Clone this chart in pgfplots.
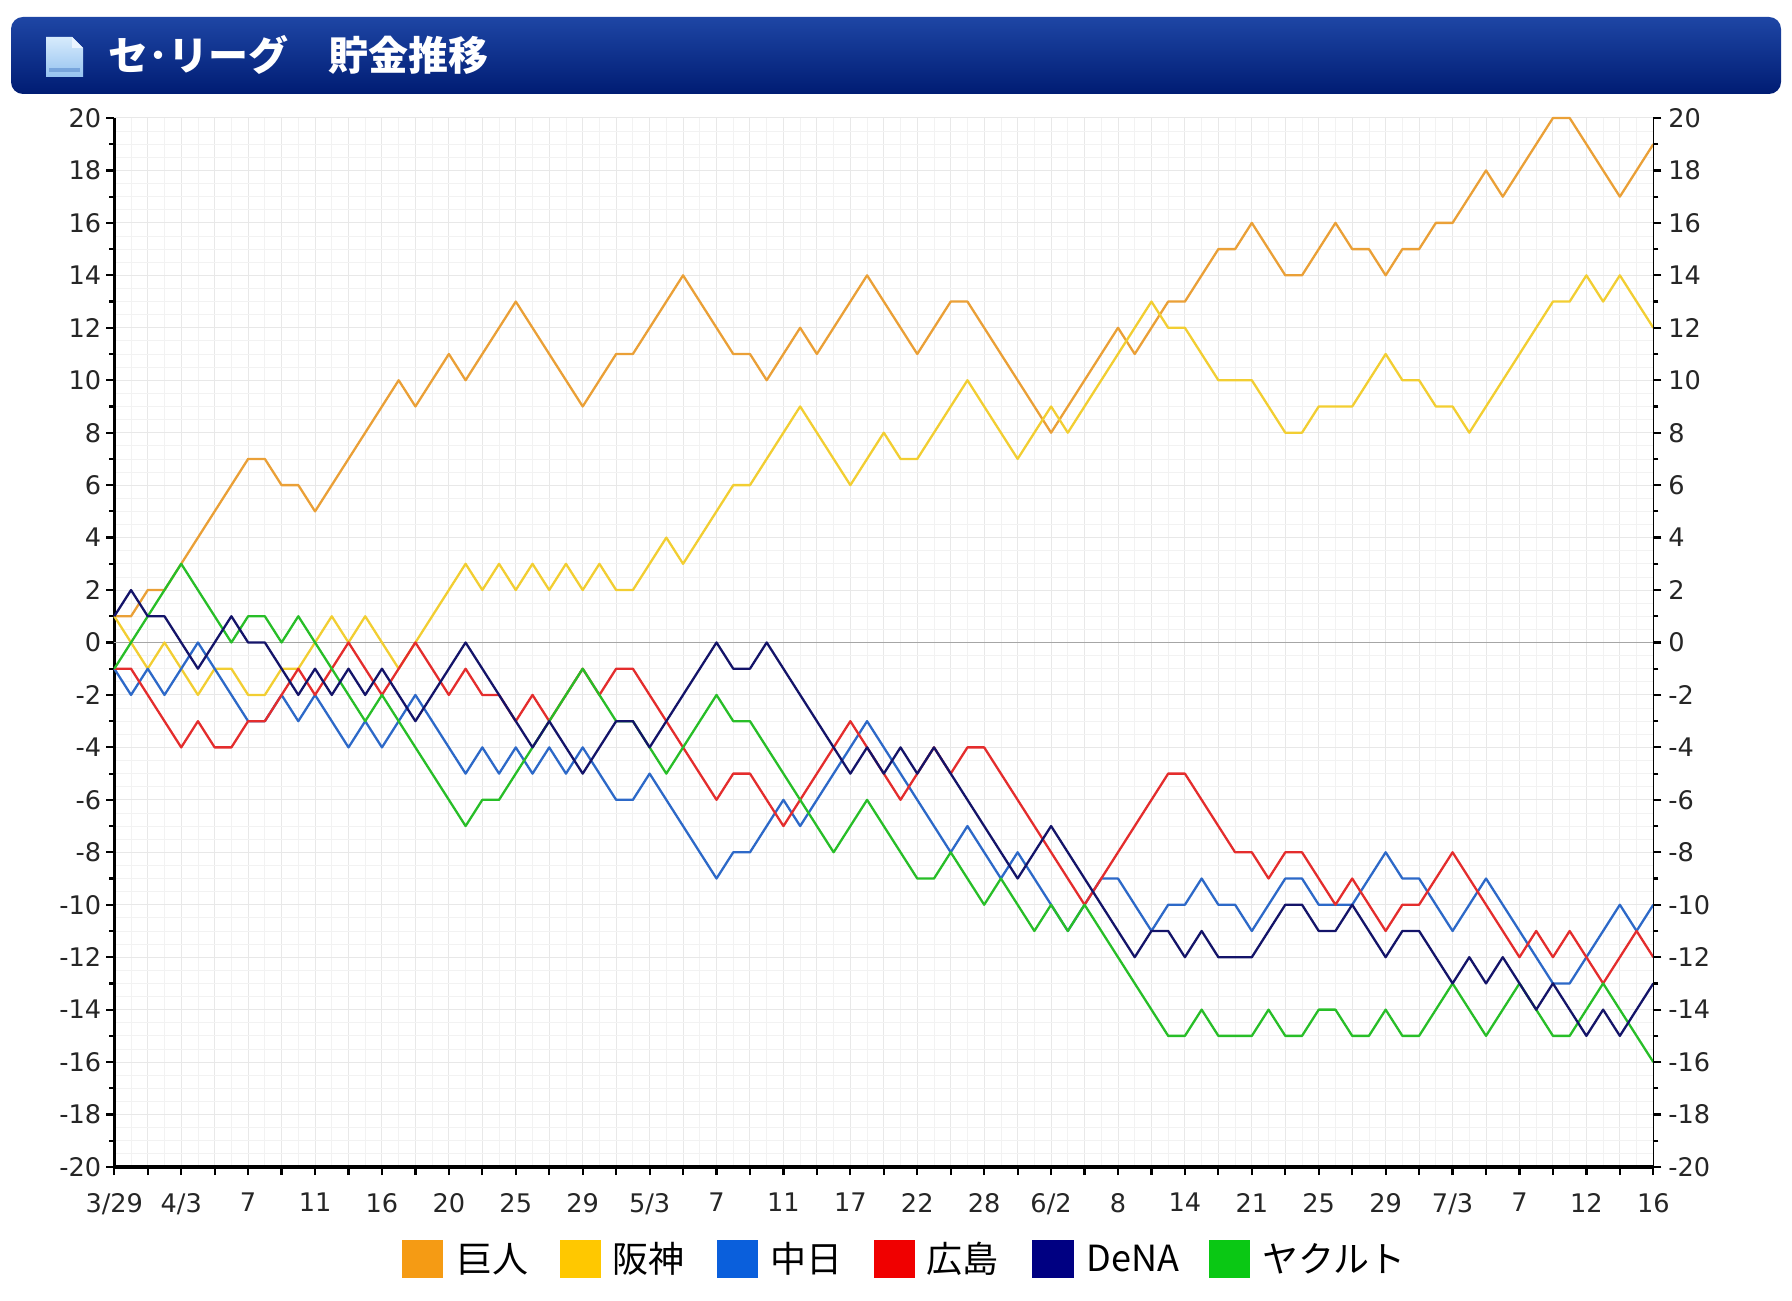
\documentclass[border=0pt]{standalone}
\usepackage{fontspec}
\setmainfont{DejaVu Sans}
\newfontfamily\jp{Noto Sans CJK JP}
\usepackage{pgfplots}
\usepackage{pgfplotstable}
\pgfplotsset{compat=1.18}

\definecolor{lG}{RGB}{234,160,55}
\definecolor{lT}{RGB}{242,206,50}
\definecolor{lD}{RGB}{45,105,200}
\definecolor{lC}{RGB}{228,45,45}
\definecolor{lB}{RGB}{20,20,105}
\definecolor{lS}{RGB}{40,190,40}
\definecolor{sG}{RGB}{245,155,20}
\definecolor{sT}{RGB}{255,200,0}
\definecolor{sD}{RGB}{10,95,220}
\definecolor{sC}{RGB}{240,0,0}
\definecolor{sB}{RGB}{0,0,130}
\definecolor{sS}{RGB}{10,200,20}
\definecolor{barTop}{RGB}{30,70,165}
\definecolor{barMid}{RGB}{6,42,140}
\definecolor{barBot}{RGB}{0,28,115}
\definecolor{icTop}{RGB}{215,235,252}
\definecolor{icBot}{RGB}{150,195,240}
\definecolor{icLine}{RGB}{120,165,220}
\definecolor{icFold}{RGB}{235,245,255}

\pgfplotstableread{
i G T D C B S
0 1 1 -1 -1 1 -1
1 1 0 -2 -1 2 0
2 2 -1 -1 -2 1 1
3 2 0 -2 -3 1 2
4 3 -1 -1 -4 0 3
5 4 -2 0 -3 -1 2
6 5 -1 -1 -4 0 1
7 6 -1 -2 -4 1 0
8 7 -2 -3 -3 0 1
9 7 -2 -3 -3 0 1
10 6 -1 -2 -2 -1 0
11 6 -1 -3 -1 -2 1
12 5 0 -2 -2 -1 0
13 6 1 -3 -1 -2 -1
14 7 0 -4 0 -1 -2
15 8 1 -3 -1 -2 -3
16 9 0 -4 -2 -1 -2
17 10 -1 -3 -1 -2 -3
18 9 0 -2 0 -3 -4
19 10 1 -3 -1 -2 -5
20 11 2 -4 -2 -1 -6
21 10 3 -5 -1 0 -7
22 11 2 -4 -2 -1 -6
23 12 3 -5 -2 -2 -6
24 13 2 -4 -3 -3 -5
25 12 3 -5 -2 -4 -4
26 11 2 -4 -3 -3 -3
27 10 3 -5 -2 -4 -2
28 9 2 -4 -1 -5 -1
29 10 3 -5 -2 -4 -2
30 11 2 -6 -1 -3 -3
31 11 2 -6 -1 -3 -3
32 12 3 -5 -2 -4 -4
33 13 4 -6 -3 -3 -5
34 14 3 -7 -4 -2 -4
35 13 4 -8 -5 -1 -3
36 12 5 -9 -6 0 -2
37 11 6 -8 -5 -1 -3
38 11 6 -8 -5 -1 -3
39 10 7 -7 -6 0 -4
40 11 8 -6 -7 -1 -5
41 12 9 -7 -6 -2 -6
42 11 8 -6 -5 -3 -7
43 12 7 -5 -4 -4 -8
44 13 6 -4 -3 -5 -7
45 14 7 -3 -4 -4 -6
46 13 8 -4 -5 -5 -7
47 12 7 -5 -6 -4 -8
48 11 7 -6 -5 -5 -9
49 12 8 -7 -4 -4 -9
50 13 9 -8 -5 -5 -8
51 13 10 -7 -4 -6 -9
52 12 9 -8 -4 -7 -10
53 11 8 -9 -5 -8 -9
54 10 7 -8 -6 -9 -10
55 9 8 -9 -7 -8 -11
56 8 9 -10 -8 -7 -10
57 9 8 -11 -9 -8 -11
58 10 9 -10 -10 -9 -10
59 11 10 -9 -9 -10 -11
60 12 11 -9 -8 -11 -12
61 11 12 -10 -7 -12 -13
62 12 13 -11 -6 -11 -14
63 13 12 -10 -5 -11 -15
64 13 12 -10 -5 -12 -15
65 14 11 -9 -6 -11 -14
66 15 10 -10 -7 -12 -15
67 15 10 -10 -8 -12 -15
68 16 10 -11 -8 -12 -15
69 15 9 -10 -9 -11 -14
70 14 8 -9 -8 -10 -15
71 14 8 -9 -8 -10 -15
72 15 9 -10 -9 -11 -14
73 16 9 -10 -10 -11 -14
74 15 9 -10 -9 -10 -15
75 15 10 -9 -10 -11 -15
76 14 11 -8 -11 -12 -14
77 15 10 -9 -10 -11 -15
78 15 10 -9 -10 -11 -15
79 16 9 -10 -9 -12 -14
80 16 9 -11 -8 -13 -13
81 17 8 -10 -9 -12 -14
82 18 9 -9 -10 -13 -15
83 17 10 -10 -11 -12 -14
84 18 11 -11 -12 -13 -13
85 19 12 -12 -11 -14 -14
86 20 13 -13 -12 -13 -15
87 20 13 -13 -11 -14 -15
88 19 14 -12 -12 -15 -14
89 18 13 -11 -13 -14 -13
90 17 14 -10 -12 -15 -14
91 18 13 -11 -11 -14 -15
92 19 12 -10 -12 -13 -16
}\datatable

\pgfplotsset{
  base/.style={
    at={(57.15pt,66.5pt)}, anchor=south west,
    width=769.5pt, height=524.5pt, scale only axis,
    xmin=0, xmax=92, ymin=-20, ymax=20,
  }
}

\begin{document}
\begin{tikzpicture}[x=1pt,y=1pt]
\path[use as bounding box] (0,0) rectangle (896,650);

% title bar
\shade[top color=barTop, middle color=barMid, bottom color=barBot, rounded corners=6pt] (5.5,603) rectangle (890.5,641.5);
% icon
\shade[top color=icTop, bottom color=icBot] (23,611.5) -- (23,631.5) -- (36,631.5) -- (41.5,626) -- (41.5,611.5) -- cycle;
\fill[icFold] (36,631.5) -- (36,626) -- (41.5,626) -- cycle;
\fill[icLine] (24.5,614) rectangle (40,616);
\node[anchor=west, text=white, inner sep=0pt, font=\jp\bfseries\fontsize{20}{20}\selectfont] at (54,622.5) {セ･リーグ　貯金推移};

% grid
\begin{axis}[base,
  xtick={0,2,...,92}, minor x tick num=1,
  ytick={-20,-18,...,20}, minor y tick num=3,
  grid=both,
  major grid style={draw=black!9, line width=0.5pt},
  minor grid style={draw=black!5, line width=0.4pt},
  axis line style={draw=none}, tick style={draw=none},
  xticklabels={}, yticklabels={}]
\end{axis}

% main
\begin{axis}[base,
  axis x line*=bottom, axis y line*=left,
  axis line style={line width=1.6pt, black},
  tick align=outside,
  major tick length=4pt, minor tick length=2.5pt,
  tick style={line width=1.1pt, black},
  xtick={0,2,...,92},
  xticklabels={3/29,,4/3,,7,,11,,16,,20,,25,,29,,5/3,,7,,11,,17,,22,,28,,6/2,,8,,14,,21,,25,,29,,7/3,,7,,12,,16},
  ytick={-20,-18,...,20}, minor ytick={-19,-17,...,19},
  /pgf/number format/assume math mode=true,
  tick label style={font=\fontsize{12.8}{12.8}\selectfont, text=black!85},
  xticklabel style={yshift=-5.5pt},
  yticklabel style={xshift=1pt},
  clip=false]
\addplot[black!35, line width=0.8pt] coordinates {(0,0) (92,0)};
\addplot[lG, line width=1.15pt, line join=round] table[x=i,y=G] {\datatable};
\addplot[lT, line width=1.15pt, line join=round] table[x=i,y=T] {\datatable};
\addplot[lD, line width=1.15pt, line join=round] table[x=i,y=D] {\datatable};
\addplot[lC, line width=1.15pt, line join=round] table[x=i,y=C] {\datatable};
\addplot[lS, line width=1.15pt, line join=round] table[x=i,y=S] {\datatable};
\addplot[lB, line width=1.15pt, line join=round] table[x=i,y=B] {\datatable};
\end{axis}

% right axis
\begin{axis}[base,
  axis x line=none, axis y line*=right,
  axis line style={line width=0.8pt, black},
  tick align=outside,
  major tick length=4pt, minor tick length=2.5pt,
  tick style={line width=1.1pt, black},
  ytick={-20,-18,...,20}, minor ytick={-19,-17,...,19},
  /pgf/number format/assume math mode=true,
  tick label style={font=\fontsize{12.8}{12.8}\selectfont, text=black!85},
  yticklabel style={xshift=0pt}]
\end{axis}

% legend
\begin{scope}[font=\jp\fontsize{18}{18}\selectfont]
\fill[sG] (201,11) rectangle (221.5,30);
\node[anchor=west, inner sep=0pt] at (228,20.5) {巨人};
\fill[sT] (280,11) rectangle (300.5,30);
\node[anchor=west, inner sep=0pt] at (306,20.5) {阪神};
\fill[sD] (358.5,11) rectangle (379,30);
\node[anchor=west, inner sep=0pt] at (385,20.5) {中日};
\fill[sC] (437,11) rectangle (457.5,30);
\node[anchor=west, inner sep=0pt] at (463,20.5) {広島};
\fill[sB] (516,11) rectangle (537,30);
\node[anchor=west, inner sep=0pt] at (543,20.5) {DeNA};
\fill[sS] (604.5,11) rectangle (625,30);
\node[anchor=west, inner sep=0pt] at (631,20.5) {ヤクルト};
\end{scope}
\end{tikzpicture}
\end{document}
